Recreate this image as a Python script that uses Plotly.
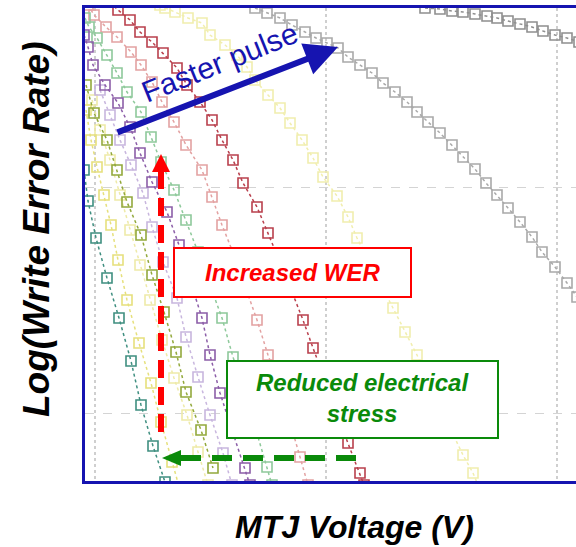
import plotly.graph_objects as go

# ---- data (x: voltage axis units, y: log WER axis units, axis drawn reversed) ----
teal_x = [84, 88, 96, 107, 119, 131, 141, 153, 165]
teal_y = [170, 201, 238, 278, 318, 361, 405, 446, 482]

yel1_x = [86, 91, 97, 104, 111, 118, 127, 139, 151, 161, 172, 180]
yel1_y = [110, 140, 167, 195, 225, 260, 300, 343, 383, 422, 462, 490]

yel2_x = [92, 100, 110, 120, 130, 140, 150, 162, 174, 187, 198, 208]
yel2_y = [100, 130, 160, 195, 230, 265, 300, 340, 378, 415, 452, 485]

olive_x = [86, 94, 107, 117, 127, 141, 152, 164, 176, 186, 201, 213]
olive_y = [85, 113, 140, 170, 202, 235, 275, 312, 352, 392, 430, 468]

lav_x = [100, 110, 120, 131, 143, 152, 163, 177, 186, 198, 210, 223, 232]
lav_y = [90, 115, 140, 165, 193, 227, 262, 298, 337, 377, 415, 453, 485]

purple_x = [84, 88, 93, 105, 118, 130, 140, 152, 167, 179, 190, 202, 210, 220, 232, 245, 250]
purple_y = [35, 47, 65, 85, 103, 127, 153, 182, 212, 245, 280, 318, 355, 393, 430, 468, 485]

lgreen_x = [85, 89, 97, 107, 117, 127, 141, 151, 161, 174, 186, 198, 210, 222, 233, 245, 256, 267, 272]
lgreen_y = [18, 27, 38, 55, 73, 92, 112, 137, 162, 190, 220, 252, 285, 318, 357, 393, 430, 467, 485]

salmon_x = [88, 94, 106, 117, 131, 141, 152, 162, 174, 186, 202, 212, 222, 234, 245, 257, 268, 280, 290, 300, 308]
salmon_y = [5, 15, 27, 37, 52, 65, 82, 102, 122, 145, 170, 197, 225, 255, 287, 320, 355, 388, 422, 457, 485]

dred_x = [110, 118, 130, 140, 152, 163, 177, 187, 200, 212, 222, 233, 243, 257, 268, 280, 292, 303, 313, 325, 336, 348, 360, 364]
dred_y = [2, 10, 20, 32, 42, 53, 68, 85, 102, 120, 140, 160, 183, 207, 233, 262, 292, 320, 348, 380, 412, 443, 473, 485]

fyel_x = [160, 165, 175, 188, 202, 210, 225, 237, 247, 255, 268, 280, 290, 302, 313, 323, 337, 348, 357, 369,
          381, 393, 405, 417, 428, 440, 451, 463, 473, 480]
fyel_y = [5, 8, 12, 18, 23, 35, 45, 55, 67, 80, 95, 108, 123, 140, 158, 177, 196, 217, 238, 262,
          285, 308, 332, 355, 380, 405, 430, 455, 473, 490]

gray1_x = [255, 267, 280, 292, 305, 316, 327, 338, 348, 360, 372, 383, 395, 407, 417, 428, 440, 452, 463, 475,
           486, 497, 508, 520, 532, 542, 555, 567, 577]
gray1_y = [8, 13, 18, 25, 32, 38, 43, 48, 57, 65, 73, 83, 92, 102, 112, 122, 133, 145, 157, 169,
           183, 195, 208, 222, 237, 252, 267, 283, 297]

gray2_x = [425, 440, 452, 463, 475, 487, 497, 508, 520, 532, 543, 555, 567, 579]
gray2_y = [8, 9, 11, 12, 14, 16, 18, 21, 24, 27, 31, 35, 38, 42]

curves = [
    (fyel_x, fyel_y, "#f1eeae"),
    (yel2_x, yel2_y, "#eeeaa8"),
    (yel1_x, yel1_y, "#e6e07c"),
    (lav_x, lav_y, "#c8b6de"),
    (salmon_x, salmon_y, "#e3a2a2"),
    (lgreen_x, lgreen_y, "#8ec99b"),
    (olive_x, olive_y, "#93a93c"),
    (purple_x, purple_y, "#8c5ea8"),
    (teal_x, teal_y, "#3f8f80"),
    (dred_x, dred_y, "#b9404d"),
    (gray1_x, gray1_y, "#a9a9a9"),
    (gray2_x, gray2_y, "#8f8f8f"),
]

fig = go.Figure()
for xs, ys, col in curves:
    fig.add_trace(go.Scatter(
        x=xs, y=ys, mode="lines+markers",
        line=dict(color=col, width=1.5, dash="3px,3px"),
        marker=dict(symbol="square-open", size=10, color=col, line=dict(width=1.6, color=col)),
        showlegend=False, hoverinfo="skip"))

BLUE = "#1614b0"
RED = "#ff0000"
GREEN = "#0a8a0a"
FONT = "Liberation Sans, Arial, sans-serif"

shapes = [
    # red dashed arrow (increased WER)
    dict(type="line", x0=161, x1=161, y0=432, y1=171, line=dict(color=RED, width=6, dash="18px,9px")),
    dict(type="path", path="M 152,172 L 170,172 L 161,154 Z", fillcolor=RED, line=dict(width=0)),
    # green dashed arrow (reduced stress)
    dict(type="line", x0=356, x1=180, y0=458, y1=458, line=dict(color=GREEN, width=6, dash="20px,11px")),
    dict(type="path", path="M 181,450 L 181,466 L 162,458 Z", fillcolor=GREEN, line=dict(width=0)),
    # boxes
    dict(type="rect", x0=174, x1=411, y0=248, y1=297, fillcolor="white",
         line=dict(color=RED, width=2), layer="above"),
    dict(type="rect", x0=227, x1=498, y0=361, y1=438, fillcolor="white",
         line=dict(color=GREEN, width=2), layer="above"),
]

annotations = [
    dict(x=338, y=47, ax=116, ay=133, xref="x", yref="y", axref="x", ayref="y",
         showarrow=True, arrowhead=2, arrowsize=1.1, arrowwidth=6, arrowcolor=BLUE, text=""),
    dict(x=219, y=62, xref="x", yref="y", text="Faster pulse", showarrow=False, textangle=-22,
         font=dict(family=FONT, size=30, color=BLUE)),
    dict(x=292, y=272, xref="x", yref="y", text="Increased WER", showarrow=False,
         font=dict(family=FONT, size=24, color=RED, weight="bold", style="italic")),
    dict(x=362, y=398, xref="x", yref="y", text="Reduced electrical<br>stress", showarrow=False,
         font=dict(family=FONT, size=24, color=GREEN, weight="bold", style="italic")),
    dict(x=(37 - 85) / 491, y=(481 - 229) / 473, xref="paper", yref="paper",
         xanchor="center", yanchor="middle",
         text="Log(Write Error Rate)", showarrow=False, textangle=-90,
         font=dict(family=FONT, size=37, color="black", weight="bold", style="italic")),
    dict(x=(354 - 85) / 491, y=(481 - 527) / 473, xref="paper", yref="paper",
         xanchor="center", yanchor="middle",
         text="MTJ Voltage (V)", showarrow=False,
         font=dict(family=FONT, size=32, color="black", weight="bold", style="italic")),
]

fig.update_layout(
    width=576, height=547,
    margin=dict(l=85, r=0, t=8, b=66),
    paper_bgcolor="white", plot_bgcolor="white",
    shapes=shapes, annotations=annotations,
    xaxis=dict(range=[85, 576], showticklabels=False, ticks="", zeroline=False,
               showgrid=True, gridcolor="#cfcfcf", gridwidth=1.5, griddash="dot",
               tick0=95, dtick=231,
               showline=True, linecolor=BLUE, linewidth=2.5, mirror=True),
    yaxis=dict(range=[481, 8], showticklabels=False, ticks="", zeroline=False,
               showgrid=True, gridcolor="#d4d4d4", gridwidth=1, griddash="dash",
               tick0=187, dtick=226,
               showline=True, linecolor=BLUE, linewidth=2.5, mirror=False),
)

fig.write_html("out.html")
